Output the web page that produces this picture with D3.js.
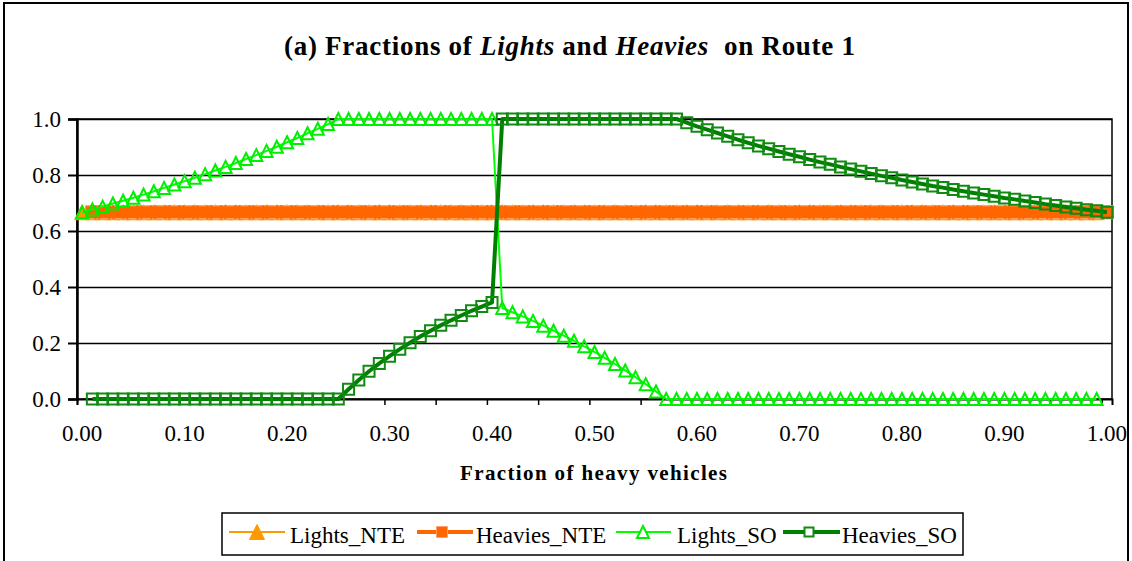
<!DOCTYPE html>
<html>
<head>
<meta charset="utf-8">
<script src="https://cdn.jsdelivr.net/npm/d3@7"></script>
<style>
  body { margin: 0; background: #fff; }
  text { font-family: "Liberation Serif", "Times New Roman", serif; }
</style>
</head>
<body>
<div id="graph"></div>
<script>
// chart size
var w = 1132;
var h = 561;

// categories (fraction of heavy vehicles) - excel category axis
var categories = [
  "0.00","0.01","0.02","0.03","0.04","0.05","0.06","0.07","0.08","0.09",
  "0.10","0.11","0.12","0.13","0.14","0.15","0.16","0.17","0.18","0.19",
  "0.20","0.21","0.22","0.23","0.24","0.25","0.26","0.27","0.28","0.29",
  "0.30","0.31","0.32","0.33","0.34","0.35","0.36","0.37","0.38","0.39",
  "0.40","0.41","0.42","0.43","0.44","0.45","0.46","0.47","0.48","0.49",
  "0.50","0.51","0.52","0.53","0.54","0.55","0.56","0.57","0.58","0.59",
  "0.60","0.61","0.62","0.63","0.64","0.65","0.66","0.67","0.68","0.69",
  "0.70","0.71","0.72","0.73","0.74","0.75","0.76","0.77","0.78","0.79",
  "0.80","0.81","0.82","0.83","0.84","0.85","0.86","0.87","0.88","0.89",
  "0.90","0.91","0.92","0.93","0.94","0.95","0.96","0.97","0.98","0.99",
  "1.00"
];

var xTickLabels = ["0.00","0.10","0.20","0.30","0.40","0.50","0.60","0.70","0.80","0.90","1.00"];
var yTickValues = [0, 0.2, 0.4, 0.6, 0.8, 1.0];

var lightsNTE = [
  0.667,0.667,0.667,0.667,0.667,0.667,0.667,0.667,0.667,0.667,
  0.667,0.667,0.667,0.667,0.667,0.667,0.667,0.667,0.667,0.667,
  0.667,0.667,0.667,0.667,0.667,0.667,0.667,0.667,0.667,0.667,
  0.667,0.667,0.667,0.667,0.667,0.667,0.667,0.667,0.667,0.667,
  0.667,0.667,0.667,0.667,0.667,0.667,0.667,0.667,0.667,0.667,
  0.667,0.667,0.667,0.667,0.667,0.667,0.667,0.667,0.667,0.667,
  0.667,0.667,0.667,0.667,0.667,0.667,0.667,0.667,0.667,0.667,
  0.667,0.667,0.667,0.667,0.667,0.667,0.667,0.667,0.667,0.667,
  0.667,0.667,0.667,0.667,0.667,0.667,0.667,0.667,0.667,0.667,
  0.667,0.667,0.667,0.667,0.667,0.667,0.667,0.667,0.667,0.667,
  null
];

var heaviesNTE = [
  null,0.667,0.667,0.667,0.667,0.667,0.667,0.667,0.667,0.667,
  0.667,0.667,0.667,0.667,0.667,0.667,0.667,0.667,0.667,0.667,
  0.667,0.667,0.667,0.667,0.667,0.667,0.667,0.667,0.667,0.667,
  0.667,0.667,0.667,0.667,0.667,0.667,0.667,0.667,0.667,0.667,
  0.667,0.667,0.667,0.667,0.667,0.667,0.667,0.667,0.667,0.667,
  0.667,0.667,0.667,0.667,0.667,0.667,0.667,0.667,0.667,0.667,
  0.667,0.667,0.667,0.667,0.667,0.667,0.667,0.667,0.667,0.667,
  0.667,0.667,0.667,0.667,0.667,0.667,0.667,0.667,0.667,0.667,
  0.667,0.667,0.667,0.667,0.667,0.667,0.667,0.667,0.667,0.667,
  0.667,0.667,0.667,0.667,0.667,0.667,0.667,0.667,0.667,0.667,
  0.667
];

var lightsSO = [
  0.667,0.677,0.687,0.698,0.708,0.719,0.730,0.742,0.754,0.766,
  0.778,0.790,0.803,0.816,0.829,0.843,0.857,0.871,0.886,0.901,
  0.917,0.932,0.949,0.965,0.982,1.000,1.000,1.000,1.000,1.000,
  1.000,1.000,1.000,1.000,1.000,1.000,1.000,1.000,1.000,1.000,
  1.000,0.325,0.310,0.295,0.279,0.262,0.244,0.226,0.208,0.188,
  0.168,0.147,0.125,0.102,0.078,0.053,0.027,0.000,0.000,0.000,
  0,0,0,0,0,0,0,0,0,0,
  0,0,0,0,0,0,0,0,0,0,
  0,0,0,0,0,0,0,0,0,0,
  0,0,0,0,0,0,0,0,0,0,
  null
];

var heaviesSO = [
  null,0,0,0,0,0,0,0,0,0,
  0,0,0,0,0,0,0,0,0,0,
  0,0,0,0,0,0,0.035,0.068,0.099,0.127,
  0.153,0.178,0.201,0.223,0.244,0.263,0.281,0.298,0.315,0.330,
  0.345,1,1,1,1,1,1,1,1,1,
  1,1,1,1,1,1,1,1,1,0.987,
  0.974,0.962,0.950,0.938,0.926,0.915,0.904,0.894,0.884,0.874,
  0.865,0.855,0.846,0.838,0.829,0.821,0.813,0.805,0.797,0.790,
  0.782,0.775,0.768,0.761,0.755,0.748,0.742,0.736,0.730,0.724,
  0.718,0.713,0.707,0.702,0.696,0.691,0.686,0.681,0.676,0.672,
  0.667
];

var seriesNames = ["Lights_NTE", "Heavies_NTE", "Lights_SO", "Heavies_SO"];

// plot area (note: "top" is taken by window.top, so use own names)
var plotLeft = 77, plotRight = 1112, plotTop = 119, plotBottom = 399;

var svg = d3.select("#graph").append("svg")
    .attr("width", w)
    .attr("height", h);

// outer chart border (bottom edge falls off the picture)
svg.append("rect")
    .attr("x", 4).attr("y", 3)
    .attr("width", 1124).attr("height", 620)
    .attr("fill", "#fff")
    .attr("stroke", "#000")
    .attr("stroke-width", 2);

// title
var title = svg.append("text")
    .attr("x", 284).attr("y", 55)
    .attr("font-size", "27px")
    .attr("font-weight", "bold")
    .attr("textLength", 571)
    .attr("lengthAdjust", "spacing")
    .attr("xml:space", "preserve");
title.append("tspan").text("(a) Fractions of ");
title.append("tspan").attr("font-style", "italic").text("Lights");
title.append("tspan").text(" and ");
title.append("tspan").attr("font-style", "italic").text("Heavies");
title.append("tspan").text("  on Route 1");

// scales
var xScale = d3.scaleBand()
    .domain(categories)
    .range([plotLeft, plotRight])
    .padding(0);
var xPos = function(i){ return xScale(categories[i]) + xScale.bandwidth() / 2; };

// index scale, used for the tick marks between categories
var xIndex = d3.scaleLinear()
    .domain([0, categories.length])
    .range([plotLeft, plotRight]);

var yScale = d3.scaleLinear()
    .domain([0, 1])
    .range([plotBottom, plotTop]);

// gridlines
svg.append("g")
    .attr("transform", "translate(" + plotLeft + ",0)")
    .call(d3.axisLeft(yScale).tickValues(yTickValues.slice(1)).tickSize(-(plotRight - plotLeft)).tickFormat(""))
    .call(function(g){
      g.select(".domain").remove();
      g.selectAll("line").attr("stroke", "#000").attr("stroke-width", 1.5);
    });

// plot area border
svg.append("rect")
    .attr("x", plotLeft).attr("y", plotTop)
    .attr("width", plotRight - plotLeft).attr("height", plotBottom - plotTop)
    .attr("fill", "none")
    .attr("stroke", "#000")
    .attr("stroke-width", 1.5);

// y axis
svg.append("g")
    .attr("transform", "translate(" + plotLeft + ",0)")
    .call(d3.axisLeft(yScale).tickValues(yTickValues).tickSize(9).tickPadding(7).tickFormat(d3.format(".1f")))
    .call(function(g){
      g.select(".domain").attr("stroke", "#000").attr("stroke-width", 2.5);
      g.selectAll("line").attr("stroke", "#000").attr("stroke-width", 2);
      g.selectAll("text")
        .attr("font-family", "Liberation Serif")
        .attr("font-size", "23px")
        .attr("fill", "#000")
        .attr("dy", "0.34em");
    });

// x axis tick marks (every 5 categories, between categories)
svg.append("g")
    .attr("transform", "translate(0," + plotBottom + ")")
    .call(d3.axisBottom(xIndex).tickValues(d3.range(0, categories.length + 1, 5)).tickSize(6).tickFormat(""))
    .call(function(g){
      g.select(".domain").attr("stroke", "#000").attr("stroke-width", 2);
      g.selectAll("line").attr("stroke", "#000").attr("stroke-width", 1.5);
    });

// x axis labels
svg.append("g")
    .attr("transform", "translate(0," + plotBottom + ")")
    .call(d3.axisBottom(xScale).tickValues(xTickLabels).tickSize(0))
    .call(function(g){
      g.select(".domain").remove();
      g.selectAll("text")
        .attr("font-family", "Liberation Serif")
        .attr("font-size", "23px")
        .attr("fill", "#000")
        .attr("y", 42)
        .attr("dy", 0);
    });

// x axis title
svg.append("text")
    .attr("x", 460).attr("y", 480)
    .attr("font-size", "21px")
    .attr("font-weight", "bold")
    .attr("textLength", 267)
    .attr("lengthAdjust", "spacing")
    .text("Fraction of heavy vehicles");

// marker shapes
function triPath(s){
  return "M0," + (-s / 2) + "L" + (s / 2) + "," + (s / 2) + "L" + (-s / 2) + "," + (s / 2) + "Z";
}
function sqPath(s){
  return "M" + (-s / 2) + "," + (-s / 2) + "h" + s + "v" + s + "h" + (-s) + "Z";
}

var styles = [
  { data: lightsNTE,  color: "#FF9900", width: 2, marker: triPath(15), fill: "#FF9900", mstroke: "#FF9900", mwidth: 1 },
  { data: heaviesNTE, color: "#FF6600", width: 4, marker: sqPath(13),  fill: "#FF6600", mstroke: "#FF6600", mwidth: 1 },
  { data: lightsSO,   color: "#00FF00", width: 2, marker: triPath(12), fill: "none",    mstroke: "#00EE00", mwidth: 2 },
  { data: heaviesSO,  color: "#008000", width: 4, marker: sqPath(11),  fill: "none",    mstroke: "#108A10", mwidth: 2 }
];

var line = d3.line()
    .defined(function(d){ return d != null; })
    .x(function(d, i){ return xPos(i); })
    .y(function(d){ return yScale(d); });

styles.forEach(function(s, k){
  var g = svg.append("g");
  g.append("path")
      .datum(s.data)
      .attr("d", line)
      .attr("fill", "none")
      .attr("stroke", s.color)
      .attr("stroke-width", s.width)
      .attr("stroke-linejoin", "round");

  var pts = s.data.map(function(d, i){ return { v: d, i: i }; })
      .filter(function(p){ return p.v != null; });

  g.selectAll("path.mk")
      .data(pts)
      .enter()
      .append("path")
      .attr("class", "mk")
      .attr("transform", function(p){ return "translate(" + xPos(p.i) + "," + yScale(p.v) + ")"; })
      .attr("d", s.marker)
      .attr("fill", s.fill)
      .attr("stroke", s.mstroke)
      .attr("stroke-width", s.mwidth);

  // faint light edges along the orange band (marker outlines in the excel picture)
  if (k === 1) {
    var bandY = yScale(heaviesNTE[1]);
    [-6.5, 6.5].forEach(function(off){
      g.append("line")
          .attr("x1", xPos(1) - 6).attr("x2", xPos(categories.length - 1) + 6)
          .attr("y1", bandY + off).attr("y2", bandY + off)
          .attr("stroke", "#FFC8A0")
          .attr("stroke-width", 0.8)
          .attr("stroke-dasharray", "8,2,2,2");
    });
  }
});

// legend
var legend = svg.append("g");
legend.append("rect")
    .attr("x", 222).attr("y", 513)
    .attr("width", 741).attr("height", 42)
    .attr("fill", "#fff")
    .attr("stroke", "#000")
    .attr("stroke-width", 1.5);

var legendItems = [
  { x1: 229, x2: 285, m: 257, tx: 290 },
  { x1: 417, x2: 473, m: 442, tx: 476 },
  { x1: 616, x2: 671, m: 643, tx: 677 },
  { x1: 783, x2: 840, m: 809, tx: 842 }
];

legendItems.forEach(function(it, k){
  var s = styles[k];
  legend.append("line")
      .attr("x1", it.x1).attr("x2", it.x2)
      .attr("y1", 532).attr("y2", 532)
      .attr("stroke", s.color)
      .attr("stroke-width", s.width);
  legend.append("path")
      .attr("transform", "translate(" + it.m + ",532)")
      .attr("d", k === 1 ? sqPath(11) : (k === 3 ? sqPath(9) : s.marker))
      .attr("fill", s.fill === "none" ? "#fff" : s.fill)
      .attr("stroke", k === 1 ? "#FFA070" : s.mstroke)
      .attr("stroke-width", s.mwidth);
  legend.append("text")
      .attr("x", it.tx).attr("y", 543)
      .attr("font-size", "23px")
      .text(seriesNames[k]);
});
</script>
</body>
</html>
